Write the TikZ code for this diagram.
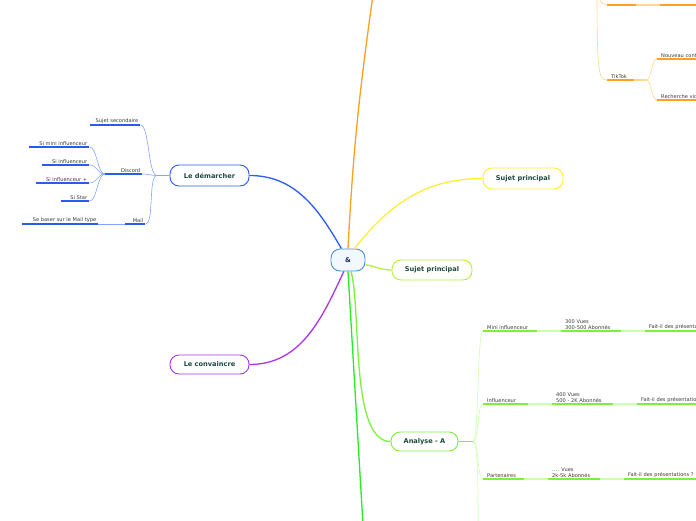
\documentclass[tikz,border=0pt]{standalone}
\usepackage{fontspec}
\setmainfont{DejaVu Sans}
\usepackage{tikz}
\usetikzlibrary{positioning}

\definecolor{cbleu}{HTML}{2A5BF0}
\definecolor{cbleul}{HTML}{86A4FF}
\definecolor{cbleuc}{HTML}{4A90D0}
\definecolor{cfond}{HTML}{F2F8FF}
\definecolor{cnuit}{HTML}{1A2A5A}
\definecolor{corange}{HTML}{FFA020}
\definecolor{corangel}{HTML}{FFD58F}
\definecolor{cjaune}{HTML}{FFEE33}
\definecolor{ccitron}{HTML}{B4F03C}
\definecolor{cviolet}{HTML}{AA33EE}
\definecolor{cvert}{HTML}{22EE22}
\definecolor{clime}{HTML}{7CF03C}
\definecolor{climel}{HTML}{CCFFB0}
\definecolor{ctexte}{HTML}{1D4A3C}
\definecolor{cgris}{HTML}{3A3A3A}

\tikzset{
	topic/.style={draw, rounded corners=9pt, line width=0.9pt, fill=white, text=ctexte,
		font=\fontsize{6.6}{7.5}\selectfont\bfseries, minimum height=20pt, inner sep=0pt},
	leaf/.style={font=\fontsize{5.1}{5.9}\selectfont, text=cgris, inner xsep=4pt,
		inner ysep=1.6pt, anchor=south west, align=left},
	leafl/.style={leaf, inner xsep=2pt, align=right},
	uline/.style={line width=1.3pt},
	con/.style={line width=0.6pt},
	trunk/.style={line width=1.3pt},
}

\begin{document}
\begin{tikzpicture}[x=1pt,y=1pt]
	\useasboundingbox (0,0) rectangle (696,-520);
	\clip (0,0) rectangle (696,-520);

	\node[topic, draw=cbleuc, fill=cfond, text=cnuit, minimum width=34pt, minimum height=22pt] (root) at (348,-260) {\&};
	\node[topic, draw=cbleu, minimum width=79pt, minimum height=21pt] (dem) at (209.5,-175.5) {Le démarcher};
	\node[topic, draw=cjaune, minimum width=80pt, minimum height=21pt] (sp1) at (523,-178.5) {Sujet principal};
	\node[topic, draw=ccitron, minimum width=80pt] (sp2) at (432,-270) {Sujet principal};
	\node[topic, draw=cviolet, minimum width=79pt, minimum height=19pt] (conv) at (209.5,-364.5) {Le convaincre};
	\node[topic, draw=clime, minimum width=67pt, minimum height=19pt] (ana) at (424.5,-441.5) {Analyse - A};

	\coordinate (otop) at (373,5);
	\coordinate (gbot) at (363,-525);
	\coordinate (dhub) at (157,-175.5);
	\coordinate (ahub) at (473,-441.5);
	\coordinate (abot) at (478,-525);
	\coordinate (ohub) at (597,15);
	\coordinate (thub) at (646,-80);
	\coordinate (twa) at (607,-5);
	\coordinate (twb) at (636,-5);
	\coordinate (twc) at (660,-5);
	\coordinate (twd) at (700,-5);

	\draw[trunk, corange] (root.north) to[out=87,in=-98] (otop);
	\draw[trunk, cbleu] (root.120) to[out=120,in=0] (dem.east);
	\draw[trunk, cjaune] (root.60) to[out=52,in=180] (sp1.west);
	\draw[trunk, ccitron] (root.-15) to[out=-10,in=180] (sp2.west);
	\draw[trunk, cviolet] (root.250) to[out=-115,in=0] (conv.east);
	\draw[trunk, cvert] (root.south) -- (gbot);
	\draw[trunk, clime] (root.-75) to[out=-75,in=180,looseness=0.6] (ana.west);

	% le demarcher
	\node[leafl, text width=46pt] (sec) at (90,-125) {Sujet secondaire};
	\node[leafl, text width=33pt] (disc) at (105,-174) {Discord};
	\node[leafl, text width=16pt] (mail) at (125,-224) {Mail};
	\node[leafl, text width=56pt] (smi) at (29,-147) {Si mini influenceur};
	\node[leafl, text width=43pt] (sinf) at (42,-165) {Si influenceur};
	\node[leafl, text width=49pt] (sinfp) at (36,-183) {Si influenceur +};
	\node[leafl, text width=24pt] (sstar) at (61,-201) {Si Star};
	\node[leafl, text width=72pt] (smail) at (22,-224) {Se baser sur le Mail type};

	\draw[con, cbleul] (dem.west) -- (dhub);
	\draw[con, cbleul] (dhub) .. controls +(-9,0) and +(9,0) .. (sec.south east);
	\draw[con, cbleul] (dhub) .. controls +(-6,0) and +(6,0) .. (disc.south east);
	\draw[con, cbleul] (dhub) .. controls +(-9,0) and +(9,0) .. (mail.south east);
	\draw[con, cbleul] (disc.south west) .. controls +(-8,0) and +(8,0) .. (smi.south east);
	\draw[con, cbleul] (disc.south west) .. controls +(-8,0) and +(8,0) .. (sinf.south east);
	\draw[con, cbleul] (disc.south west) .. controls +(-8,0) and +(8,0) .. (sinfp.south east);
	\draw[con, cbleul] (disc.south west) .. controls +(-8,0) and +(8,0) .. (sstar.south east);
	\draw[con, cbleul] (mail.south west) -- (smail.south east);
	\foreach \n in {sec,disc,mail,smi,sinf,sinfp,sstar,smail}
		\draw[uline, cbleu] (\n.south west) -- (\n.south east);

	% analyse
	\node[leaf, text width=46pt] (mini) at (483,-331) {Mini influenceur};
	\node[leaf, text width=52pt] (mvues) at (561,-331) {300 Vues\\300-500 Abonnés};
	\node[leaf, text width=90pt] (mfait) at (645,-331) {Fait-il des présentations ?};
	\node[leaf, text width=37pt] (inf) at (483,-404) {Influenceur};
	\node[leaf, text width=53pt] (ivues) at (552,-404) {400 Vues\\500 - 2K Abonnés};
	\node[leaf, text width=90pt] (ifait) at (637,-404) {Fait-il des présentations ?};
	\node[leaf, text width=33pt] (par) at (483,-479) {Partenaires};
	\node[leaf, text width=44pt] (pvues) at (548,-479) {…. Vues\\2k-5k Abonnés};
	\node[leaf, text width=90pt] (pfait) at (624,-479) {Fait-il des présentations ?};

	\draw[uline, clime] (ana.east) -- (ahub);
	\draw[con, climel] (ahub) .. controls +(6,0) and +(-6,0) .. (mini.south west);
	\draw[con, climel] (ahub) .. controls +(6,0) and +(-6,0) .. (inf.south west);
	\draw[con, climel] (ahub) .. controls +(6,0) and +(-6,0) .. (par.south west);
	\draw[con, climel] (ahub) .. controls +(5,0) and +(0,40) .. (abot);
	\draw[uline, climel] (mini.south east) -- (mvues.south west);
	\draw[uline, climel] (mvues.south east) -- (mfait.south west);
	\draw[uline, climel] (inf.south east) -- (ivues.south west);
	\draw[uline, climel] (ivues.south east) -- (ifait.south west);
	\draw[uline, climel] (par.south east) -- (pvues.south west);
	\draw[uline, climel] (pvues.south east) -- (pfait.south west);
	\foreach \n in {mini,mvues,mfait,inf,ivues,ifait,par,pvues,pfait}
		\draw[uline, clime] (\n.south west) -- (\n.south east);

	% reseaux
	\node[leaf, text width=19pt] (tik) at (607,-80) {TikTok};
	\node[leaf, text width=60pt] (nouv) at (657,-59) {Nouveau contenu};
	\node[leaf, text width=60pt] (rech) at (657,-100) {Recherche vidéo};

	\draw[con, corangel] (ohub) .. controls +(0,-12) and +(-6,0) .. (twa);
	\draw[con, corangel] (ohub) .. controls +(0,-85) and +(-9,0) .. (tik.south west);
	\draw[uline, corangel] (twb) -- (twc);
	\draw[uline, corangel] (tik.south east) -- (thub);
	\draw[con, corangel] (thub) .. controls +(6,0) and +(-6,0) .. (nouv.south west);
	\draw[con, corangel] (thub) .. controls +(6,0) and +(-6,0) .. (rech.south west);
	\draw[uline, corange] (twa) -- (twb);
	\draw[uline, corange] (twc) -- (twd);
	\foreach \n in {tik,nouv,rech}
		\draw[uline, corange] (\n.south west) -- (\n.south east);
\end{tikzpicture}
\end{document}
